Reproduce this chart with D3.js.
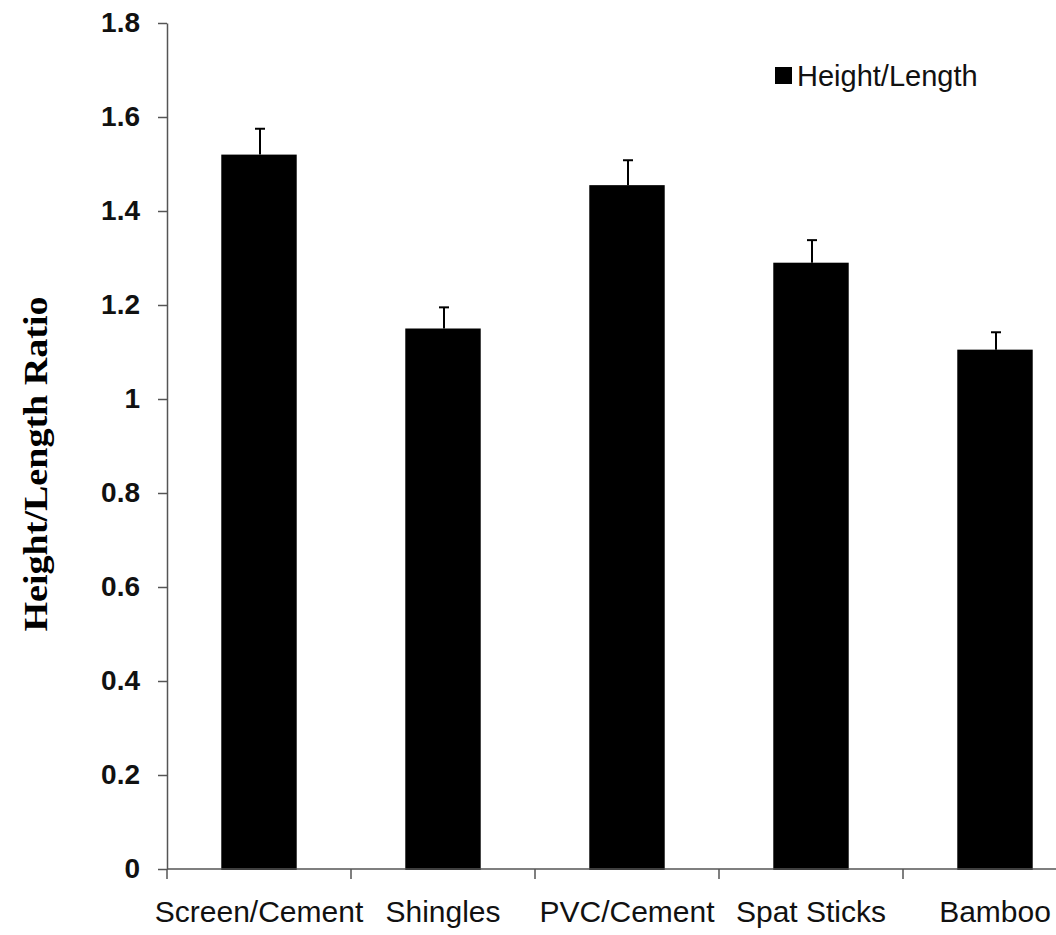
<!DOCTYPE html>
<html>
<head>
<meta charset="utf-8">
<script src="https://cdnjs.cloudflare.com/ajax/libs/d3/7.8.5/d3.min.js"></script>
<style>
  html, body { margin: 0; padding: 0; background: #fff; }
  svg { display: block; }
</style>
</head>
<body>
<svg id="chart"></svg>
<script>
// chart values
const categories = ['Screen/Cement', 'Shingles', 'PVC/Cement', 'Spat Sticks', 'Bamboo'];
const ratios = [1.52, 1.15, 1.455, 1.29, 1.105];
const errors = [0.055, 0.045, 0.053, 0.048, 0.037];
const yTicks = [0, 0.2, 0.4, 0.6, 0.8, 1, 1.2, 1.4, 1.6, 1.8];
const seriesName = 'Height/Length';
const yTitle = 'Height/Length Ratio';

const width = 1056, height = 935;
const margin = { top: 23, left: 167, bottom: 66 };
const plotBottom = height - margin.bottom;

const svg = d3.select('#chart')
  .attr('width', width)
  .attr('height', height);

svg.append('rect')
  .attr('width', width)
  .attr('height', height)
  .attr('fill', '#fff');

// slots between the x ticks, and the bars inside them
const xSlot = d3.scaleBand()
  .domain(categories)
  .range([margin.left, margin.left + 184 * categories.length]);

const xBar = d3.scaleBand()
  .domain(categories)
  .range(xSlot.range())
  .paddingInner(0.59)
  .paddingOuter(0.295);

const y = d3.scaleLinear()
  .domain([0, 1.8])
  .range([plotBottom, margin.top]);

// bars
svg.append('g')
  .selectAll('rect')
  .data(categories)
  .join('rect')
  .attr('x', d => xBar(d))
  .attr('y', (d, i) => y(ratios[i]))
  .attr('width', xBar.bandwidth())
  .attr('height', (d, i) => y(0) - y(ratios[i]) + 1)
  .attr('fill', '#000');

// upper error bars
const errG = svg.append('g')
  .attr('stroke', '#000')
  .attr('stroke-width', 2);

categories.forEach((c, i) => {
  const cx = xBar(c) + xBar.bandwidth() / 2 + 1;
  errG.append('line')
    .attr('x1', cx).attr('x2', cx)
    .attr('y1', y(ratios[i])).attr('y2', y(ratios[i] + errors[i]));
  errG.append('line')
    .attr('x1', cx - 5).attr('x2', cx + 5)
    .attr('y1', y(ratios[i] + errors[i])).attr('y2', y(ratios[i] + errors[i]));
});

// y axis
const yAxis = d3.axisLeft(y)
  .tickValues(yTicks)
  .tickSize(9)
  .tickPadding(18)
  .tickSizeOuter(0)
  .tickFormat(d => String(+d.toFixed(1)));

const yAxisG = svg.append('g')
  .attr('transform', `translate(${margin.left},0)`)
  .call(yAxis);

yAxisG.select('.domain').attr('stroke', '#555').attr('stroke-width', 1.5);
yAxisG.selectAll('.tick line').attr('stroke', '#555').attr('stroke-width', 1.5);
yAxisG.selectAll('.tick text')
  .attr('fill', '#111')
  .style('font-family', '"Liberation Sans", Arial, sans-serif')
  .style('font-size', '28px')
  .style('font-weight', 'bold');

// x axis: ticks at slot edges, labels at slot centres
const xAxisG = svg.append('g');

xAxisG.append('line')
  .attr('x1', margin.left).attr('x2', xSlot.range()[1])
  .attr('y1', plotBottom).attr('y2', plotBottom)
  .attr('stroke', '#555')
  .attr('stroke-width', 1.5);

xAxisG.selectAll('.xtick')
  .data(categories)
  .join('line')
  .attr('class', 'xtick')
  .attr('x1', d => xSlot(d)).attr('x2', d => xSlot(d))
  .attr('y1', plotBottom).attr('y2', plotBottom + 10)
  .attr('stroke', '#555')
  .attr('stroke-width', 1.5);

xAxisG.selectAll('.xlabel')
  .data(categories)
  .join('text')
  .attr('class', 'xlabel')
  .attr('x', d => xSlot(d) + xSlot.bandwidth() / 2)
  .attr('y', 922)
  .attr('text-anchor', 'middle')
  .attr('fill', '#111')
  .style('font-family', '"Liberation Sans", Arial, sans-serif')
  .style('font-size', '30px')
  .text(d => d);

// y title
svg.append('text')
  .attr('transform', 'translate(47,464) rotate(-90)')
  .attr('text-anchor', 'middle')
  .attr('fill', '#000')
  .attr('textLength', 335)
  .attr('lengthAdjust', 'spacingAndGlyphs')
  .style('font-family', '"Liberation Serif", "Times New Roman", serif')
  .style('font-size', '34px')
  .style('font-weight', 'bold')
  .text(yTitle);

// legend
const legend = svg.append('g').attr('transform', 'translate(775,0)');
legend.append('rect')
  .attr('x', 0).attr('y', 67)
  .attr('width', 17).attr('height', 17)
  .attr('fill', '#000');
legend.append('text')
  .attr('x', 22).attr('y', 86)
  .attr('fill', '#111')
  .style('font-family', '"Liberation Sans", Arial, sans-serif')
  .style('font-size', '29px')
  .text(seriesName);
</script>
</body>
</html>
